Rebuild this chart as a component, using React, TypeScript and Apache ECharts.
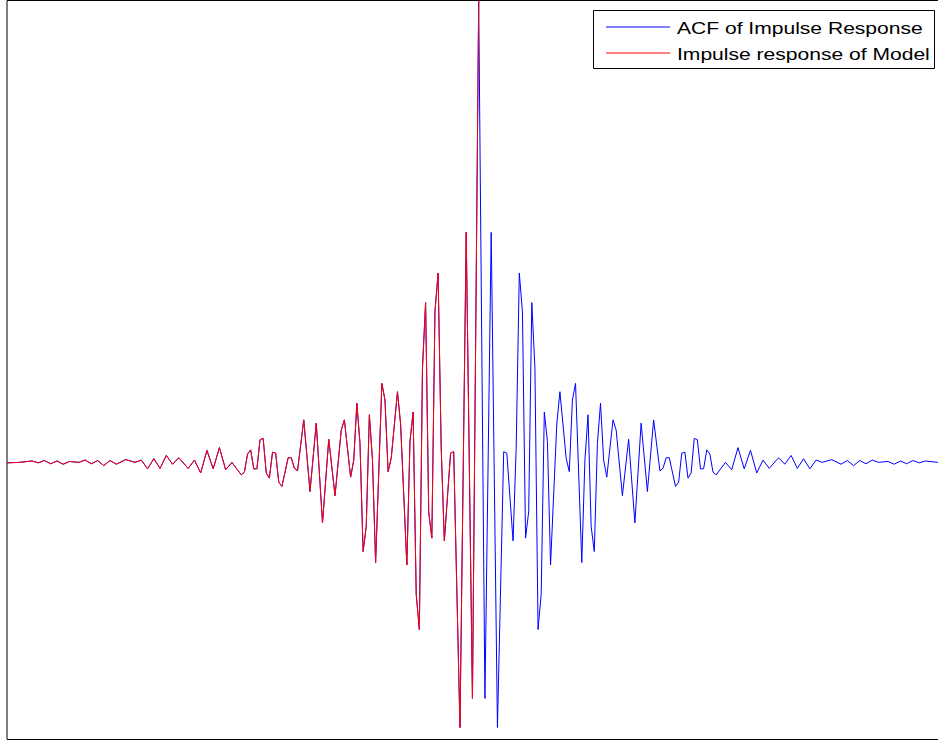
import React, { useEffect, useRef } from "react";
import * as echarts from "echarts";

// Lag positions (half-sample index) of the turning points of the left half
const lags = [
  -151, -147, -143, -141, -139, -137, -135, -133, -131, -128, -126, -124, -122, -120, -118, -116,
  -113, -110, -108, -106, -104, -102, -100, -98, -96, -93, -91, -89, -87, -85, -83, -81, -79,
  -76, -75, -74, -73, -72, -71, -70, -69, -68, -67, -66, -65, -64, -63, -61, -60, -59, -58,
  -56, -54, -52, -50, -48, -46, -44, -43, -41, -40, -39, -38, -37, -36, -35, -34, -33, -31,
  -30, -29, -28, -26, -25, -23, -22, -21, -20, -19, -18, -17, -16, -15, -14, -13, -12, -11,
  -9, -8, -6, -4, -2, 0,
];

// Normalised autocorrelation at those lags (peak = 1 at lag 0)
const acfHalf = [
  -0.001, 0, 0.003, -0.001, 0.004, -0.003, 0.003, -0.004, 0.002, 0, 0.005, -0.003, 0.004, -0.007, 0.004, -0.004,
  0.006, 0, 0.005, -0.014, 0.008, -0.013, 0.015, -0.004, 0.01, -0.013, 0.005, -0.023, 0.026, -0.014, 0.032, -0.016, 0,
  -0.027, -0.021, 0.018, 0.027, -0.014, -0.014, 0.049, 0.052, -0.023, -0.034, 0.022, 0.02, -0.043, -0.052, 0.01, 0.01, -0.013, -0.018,
  0.092, -0.063, 0.085, -0.131, 0.05, -0.072, 0.07, 0.092, -0.032, 0.005, 0.128, 0.041, -0.193, -0.139, 0.103, 0.005, -0.217, 0.171,
  0.135, -0.02, 0.009, 0.153, 0.083, -0.222, 0.045, 0.109, -0.286, -0.362, 0.204, 0.346, -0.107, -0.164, 0.326, 0.41, 0.031, -0.17,
  0.02, 0.023, -0.574, 0.498, -0.511, 1,
];

// Model impulse response, which coincides with the causal half of the ACF
const modelResponse = acfHalf.slice();

const seriesNames = ["ACF of Impulse Response", "Impulse response of Model"];
const seriesColors = ["#0000ff", "#ff0000"];

const xMin = -151;
const xMax = 151;
const yMin = -0.6;
const yMax = 1;

// The ACF is even, so the right half mirrors the left one
function buildAcf(): number[][] {
  const left = lags.map((k, i) => [k, acfHalf[i]]);
  const right: number[][] = [];
  for (let i = lags.length - 2; i >= 0; i--) right.push([-lags[i], acfHalf[i]]);
  return left.concat(right);
}

export default function App() {
  const ref = useRef<HTMLDivElement>(null);

  useEffect(() => {
    document.body.style.margin = "0";
    if (!ref.current) return;
    const chart = echarts.init(ref.current, undefined, { renderer: "svg" });
    const font = "17px 'Liberation Sans', Arial, Helvetica, sans-serif";
    const legendRows = [27, 53];
    const legendItems: any[] = [
      {
        type: "rect",
        shape: { x: 593.5, y: 10.5, width: 341, height: 58 },
        style: { fill: "#ffffff", stroke: "#000000", lineWidth: 1 },
      },
    ];
    seriesNames.forEach((name, i) => {
      legendItems.push({
        type: "line",
        shape: { x1: 606, y1: legendRows[i], x2: 670, y2: legendRows[i] },
        style: { stroke: seriesColors[i], lineWidth: 1 },
      });
      legendItems.push({
        type: "text",
        x: 677,
        y: legendRows[i] + 1,
        scaleX: 1.24,
        style: { text: name, font, fill: "#000000", verticalAlign: "middle", align: "left" },
      });
    });

    chart.setOption({
      animation: false,
      backgroundColor: "#ffffff",
      grid: {
        left: 7,
        top: 0.5,
        width: 943.4,
        height: 739,
        show: true,
        borderColor: "#000000",
        borderWidth: 1,
        backgroundColor: "transparent",
      },
      xAxis: {
        type: "value",
        min: xMin,
        max: xMax,
        axisLine: { show: false },
        axisTick: { show: false },
        axisLabel: { show: false },
        splitLine: { show: false },
      },
      yAxis: {
        type: "value",
        min: yMin,
        max: yMax,
        axisLine: { show: false },
        axisTick: { show: false },
        axisLabel: { show: false },
        splitLine: { show: false },
      },
      graphic: [{ type: "group", z: 100, children: legendItems }],
      series: [
        {
          name: seriesNames[0],
          type: "line",
          data: buildAcf(),
          showSymbol: false,
          symbol: "none",
          lineStyle: { color: seriesColors[0], width: 1 },
          itemStyle: { color: seriesColors[0] },
          z: 2,
        },
        {
          name: seriesNames[1],
          type: "line",
          data: lags.map((k, i) => [k, modelResponse[i]]),
          showSymbol: false,
          symbol: "none",
          lineStyle: { color: seriesColors[1], width: 1 },
          itemStyle: { color: seriesColors[1] },
          z: 3,
        },
      ],
    });
    return () => chart.dispose();
  }, []);

  return (
    <div style={{ width: 938, height: 740, overflow: "hidden" }}>
      <div ref={ref} style={{ width: 952, height: 740 }} />
    </div>
  );
}
